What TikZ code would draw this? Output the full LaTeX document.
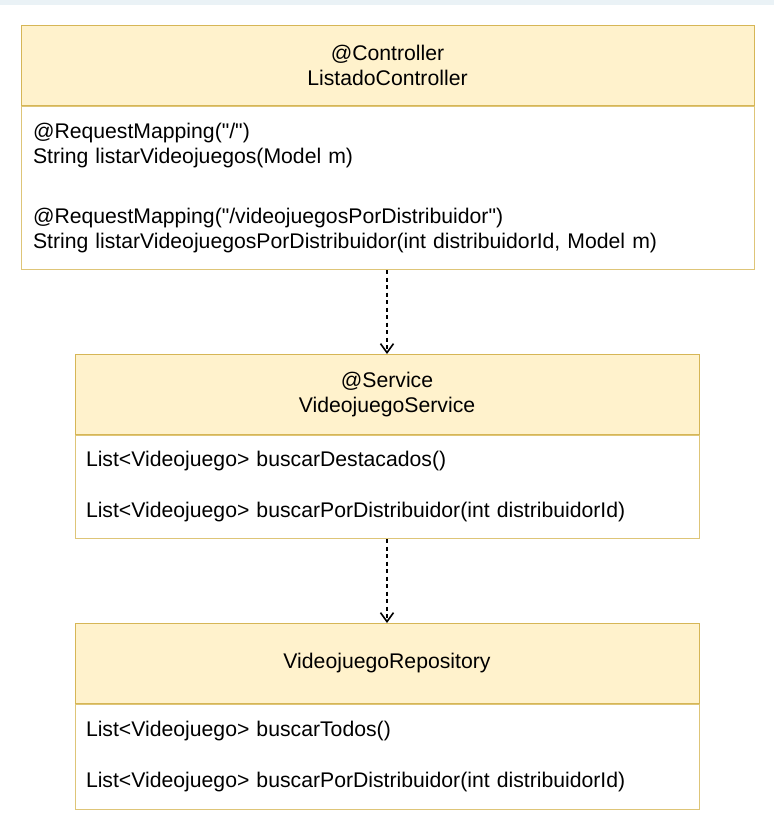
\documentclass[tikz,border=0pt]{standalone}
\usepackage{fontspec}
\setmainfont{Liberation Sans}[Ligatures=TeXOff]
\usepackage{tikz}
\usetikzlibrary{positioning, arrows.meta}
\definecolor{hdrfill}{HTML}{FFF2CC}
\definecolor{hdrline}{HTML}{D6B656}
\definecolor{topband}{HTML}{EAF2F6}

\begin{document}
\begin{tikzpicture}[x=1pt,y=-1pt,node distance=0pt,
    head/.style={draw=hdrline,fill=hdrfill,line width=1pt,minimum height=80pt,
      align=center,anchor=north,font=\fontsize{21.2}{25}\selectfont},
    body/.style={draw=hdrline!80,fill=white,line width=1pt,align=left,
      inner xsep=11pt,font=\fontsize{21.2}{25}\selectfont},
    dep/.style={-{Straight Barb[length=9pt,width=13pt,line width=1.6pt]},
      dash pattern=on 4pt off 3.5pt,line width=1.5pt}]
      \useasboundingbox (0,0) rectangle (774,836);
      \fill[topband] (0,0) rectangle (774,5);
      \node[head,minimum width=733pt] (ctrl) at (387.5,25) {@Controller\\ListadoController};
      \node[body,below=of ctrl,minimum width=733pt,minimum height=163pt,text width=709pt] (ctrl_m)
        {@RequestMapping("/")\\String listarVideojuegos(Model m)\\[35pt]
         @RequestMapping("/videojuegosPorDistribuidor")\\
         String listarVideojuegosPorDistribuidor(int distribuidorId, Model m)};
      \node[head,minimum width=624pt] (serv) at (387,354) {@Service\\VideojuegoService};
      \node[body,below=of serv,minimum width=624pt,minimum height=103pt,text width=602pt] (serv_m)
        {List<Videojuego> buscarDestacados()\\[26pt]
         List<Videojuego> buscarPorDistribuidor(int distribuidorId)};
      \node[head,minimum width=624pt] (repo) at (387,623) {VideojuegoRepository};
      \node[body,below=of repo,minimum width=624pt,minimum height=105pt,text width=602pt] (repo_m)
        {List<Videojuego> buscarTodos()\\[26pt]
         List<Videojuego> buscarPorDistribuidor(int distribuidorId)};
      \draw[dep] (ctrl_m.south -| serv.north) -- (serv.north);
      \draw[dep] (serv_m.south) -- (repo.north);
\end{tikzpicture}
\end{document}
